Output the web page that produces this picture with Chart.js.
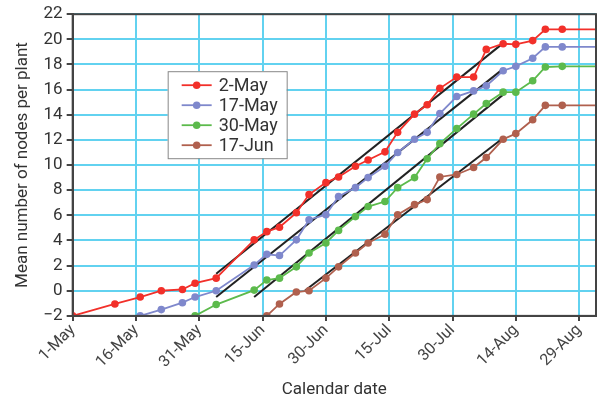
<!DOCTYPE html>
<html>
<head>
<meta charset="utf-8">
<script src="https://cdn.jsdelivr.net/npm/chart.js@4.4.1/dist/chart.umd.min.js"></script>
<style>
  html, body { margin: 0; padding: 0; background: #fff; }
  #wrap { width: 614px; height: 406px; }
</style>
</head>
<body>
<div id="wrap"><canvas id="nodes-chart" width="614" height="406"></canvas></div>
<script>
// days after 1 May
const sampleDays = [0, 10, 16, 21, 26, 29, 34, 43, 46, 49, 53, 56, 60, 63, 67, 70, 74, 77, 81, 84, 87, 91, 95, 98, 102, 105, 109, 112, 116, 124];

const sown2May = [-2, -1.05, -0.5, 0, 0.1, 0.6, 1.0, 4.05, 4.7, 5.05, 6.2, 7.65, 8.6, 9.05, 9.9, 10.4, 11.05, 12.6, 14.05, 14.8, 16.1, 17.0, 17.0, 19.2, 19.65, 19.6, 19.9, 20.8, 20.8, 20.8];
const sown17May = [null, null, -2, -1.5, -0.95, -0.5, 0, 2.05, 2.9, 2.8, 4.05, 5.65, 6.05, 7.5, 8.2, 9.0, 9.9, 11.0, 12.05, 12.6, 14.1, 15.45, 15.9, 16.3, 17.5, 17.85, 18.5, 19.4, 19.4, 19.4];
const sown30May = [null, null, null, null, null, -2, -1.1, 0.05, 0.85, 1.0, 1.9, 3.0, 3.8, 4.8, 5.9, 6.7, 7.1, 8.2, 9.0, 10.5, 11.7, 12.9, 14.05, 14.9, 15.8, 15.8, 16.7, 17.8, 17.85, 17.85];
const sown17Jun = [null, null, null, null, null, null, null, null, -2, -1.05, -0.1, 0, 1.0, 1.9, 3.0, 3.8, 4.5, 6.05, 6.85, 7.25, 9.05, 9.25, 9.8, 10.6, 12.05, 12.5, 13.6, 14.75, 14.75, 14.75];

const seriesNames = ['2-May', '17-May', '30-May', '17-Jun'];
const seriesValues = [sown2May, sown17May, sown30May, sown17Jun];
const seriesColors = ['#f2302a', '#7f88cc', '#5cba4c', '#b0604e'];

// fitted lines (start/end)
const fitStartDay = [34, 34, 43, 55];
const fitEndDay = [102, 102, 102, 102];
const fitStartValue = [1.35, -0.5, -0.5, 0];
const fitEndValue = [19.7, 17.65, 15.6, 12.15];

const tickDays = [0, 15, 30, 45, 60, 75, 90, 105, 120];
const tickLabels = ['1-May', '16-May', '31-May', '15-Jun', '30-Jun', '15-Jul', '30-Jul', '14-Aug', '29-Aug'];

const lastIdx = sampleDays.length - 1;

const datasets = seriesValues.map((vals, i) => ({
  label: seriesNames[i],
  data: sampleDays.map((d, j) => ({ x: d, y: vals[j] })),
  borderColor: seriesColors[i],
  backgroundColor: seriesColors[i],
  borderWidth: 1.8,
  pointRadius: ctx => ctx.dataIndex === lastIdx ? 0 : 3.8,
  pointBorderWidth: 0,
  tension: 0,
  spanGaps: false
}));

fitStartDay.forEach((d, i) => {
  datasets.push({
    label: 'fit',
    data: [{ x: d, y: fitStartValue[i] }, { x: fitEndDay[i], y: fitEndValue[i] }],
    borderColor: '#222',
    borderWidth: 2,
    pointRadius: 0,
    tension: 0
  });
});

// frame around the plot + legend box inside
const framePlugin = {
  id: 'frame',
  afterDatasetsDraw(chart) {
    const { ctx, chartArea: a } = chart;
    ctx.save();
    ctx.strokeStyle = '#444';
    ctx.lineWidth = 2;
    ctx.strokeRect(a.left, a.top, a.right - a.left, a.bottom - a.top);

    const bx = a.left + 95, by = a.top + 57, bw = 119, bh = 87;
    ctx.fillStyle = '#fff';
    ctx.fillRect(bx, by, bw, bh);
    ctx.strokeStyle = '#888';
    ctx.lineWidth = 1;
    ctx.strokeRect(bx + 0.5, by + 0.5, bw, bh);

    ctx.font = '18px Roboto';
    ctx.textBaseline = 'middle';
    seriesNames.forEach((name, i) => {
      const y = by + 14 + i * 20;
      ctx.strokeStyle = seriesColors[i];
      ctx.lineWidth = 1.8;
      ctx.beginPath();
      ctx.moveTo(bx + 14, y);
      ctx.lineTo(bx + 44, y);
      ctx.stroke();
      ctx.fillStyle = seriesColors[i];
      ctx.beginPath();
      ctx.arc(bx + 29, y, 3.8, 0, Math.PI * 2);
      ctx.fill();
      ctx.fillStyle = '#333';
      ctx.fillText(name, bx + 51, y + 1);
    });
    ctx.restore();
  }
};

Chart.defaults.font.family = 'Roboto';
Chart.defaults.font.size = 17;
Chart.defaults.color = '#333';

new Chart(document.getElementById('nodes-chart').getContext('2d'), {
  type: 'line',
  data: { datasets },
  options: {
    responsive: false,
    animation: false,
    layout: { padding: { top: 6, right: 18, left: 13, bottom: 4 } },
    plugins: {
      legend: { display: false },
      tooltip: { enabled: false }
    },
    scales: {
      x: {
        type: 'linear',
        min: 0,
        max: 124,
        afterBuildTicks: axis => {
          axis.ticks = tickDays.map(v => ({ value: v }));
        },
        ticks: {
          autoSkip: false,
          minRotation: 45,
          maxRotation: 45,
          padding: 0,
          color: '#444',
          font: { size: 16 },
          callback: (value) => tickLabels[tickDays.indexOf(value)]
        },
        grid: { color: '#62d2f0', lineWidth: 2, tickColor: '#444', tickLength: 5 },
        border: { color: '#444', width: 2 },
        title: { display: true, text: 'Calendar date', color: '#333', padding: { top: 8, bottom: 2 } }
      },
      y: {
        min: -2,
        max: 22,
        ticks: {
          stepSize: 2,
          autoSkip: false,
          padding: 4,
          color: '#333',
          callback: v => v < 0 ? '\u2212' + Math.abs(v) : v
        },
        grid: { color: '#62d2f0', lineWidth: 2, tickColor: '#444', tickLength: 6 },
        border: { color: '#444', width: 2 },
        title: { display: true, text: 'Mean number of nodes per plant', color: '#333', padding: { top: 0, bottom: 6 } }
      }
    }
  },
  plugins: [framePlugin]
});
</script>
</body>
</html>
